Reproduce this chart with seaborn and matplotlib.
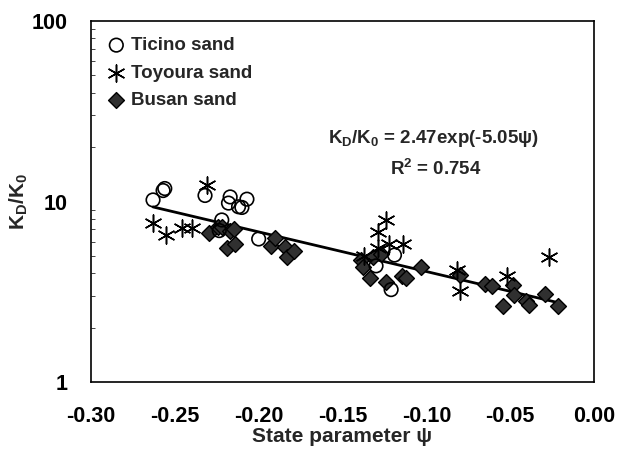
import numpy as np
import pandas as pd
import matplotlib
matplotlib.use("Agg")
import matplotlib.pyplot as plt
import seaborn as sns

# ---- data ----
ticino_x = [-0.263, -0.257, -0.256, -0.232, -0.217, -0.218, -0.212, -0.210, -0.207,
            -0.222, -0.2235, -0.200, -0.130, -0.119, -0.121]
ticino_y = [10.2, 11.5, 11.8, 10.8, 10.6, 9.8, 9.35, 9.27, 10.3,
            7.9, 6.9, 6.2, 4.4, 5.05, 3.25]

toyoura_x = [-0.263, -0.255, -0.246, -0.240, -0.231,
             -0.124, -0.129, -0.129, -0.122, -0.114, -0.137,
             -0.082, -0.080, -0.052, -0.027]
toyoura_y = [7.6, 6.5, 7.1, 7.1, 12.3,
             7.9, 6.8, 5.5, 5.85, 5.85, 5.0,
             4.2, 3.2, 3.85, 4.95]

busan_x = [-0.2295, -0.2245, -0.222, -0.219, -0.217, -0.214, -0.215,
           -0.1924, -0.190, -0.184, -0.183, -0.179,
           -0.139, -0.1376, -0.1338, -0.1319, -0.127, -0.124, -0.1143, -0.112, -0.103,
           -0.0798, -0.0648, -0.0607, -0.0543, -0.0483, -0.0476, -0.0407, -0.0388,
           -0.0293, -0.0217]
busan_y = [6.7, 7.2, 7.2, 5.5, 6.9, 5.8, 7.0,
           5.7, 6.25, 5.6, 4.95, 5.35,
           4.74, 4.36, 3.76, 4.95, 5.1, 3.6, 3.89, 3.76, 4.33,
           3.93, 3.5, 3.41, 2.65, 3.46, 3.04, 2.8, 2.68,
           3.07, 2.65]

fit_x = [-0.263, -0.022]
fit_y = [9.33, 2.76]

x_ticks = [-0.30, -0.25, -0.20, -0.15, -0.10, -0.05, 0.00]
y_ticks = [1, 10, 100]

# ---- style ----
sns.set_theme(style="white")
plt.rcParams['font.family'] = ['Liberation Sans', 'DejaVu Sans']
plt.rcParams['font.weight'] = 'bold'
plt.rcParams['mathtext.fontset'] = 'custom'
plt.rcParams['mathtext.rm'] = 'Liberation Sans:bold'
plt.rcParams['mathtext.bf'] = 'Liberation Sans:bold'
plt.rcParams['mathtext.it'] = 'Liberation Sans:bold'
plt.rcParams['mathtext.default'] = 'bf'

fig = plt.figure(figsize=(6.21, 4.54), dpi=100)
ax = fig.add_axes([91/621, (454-382)/454, (594-91)/621, (382-21)/454])

df_t = pd.DataFrame({'x': ticino_x, 'y': ticino_y})
df_y = pd.DataFrame({'x': toyoura_x, 'y': toyoura_y})
df_b = pd.DataFrame({'x': busan_x, 'y': busan_y})
df_f = pd.DataFrame({'x': fit_x, 'y': fit_y})

sns.lineplot(data=df_f, x='x', y='y', ax=ax, color='black', lw=2.0, zorder=2)
sns.scatterplot(data=df_b, x='x', y='y', ax=ax, marker='D', s=65,
                color='#303030', edgecolor='black', linewidth=1.0, zorder=3,
                label='Busan sand')
sns.scatterplot(data=df_t, x='x', y='y', ax=ax, marker='o', s=95,
                facecolor='none', edgecolor='black', linewidth=1.2, zorder=4,
                label='Ticino sand')
sns.scatterplot(data=df_y, x='x', y='y', ax=ax, marker=(6, 2, 0), s=150,
                color='black', linewidth=1.1, zorder=4,
                label='Toyoura sand')

ax.set_yscale('log')
ax.set_xlim(-0.30, 0.0)
ax.set_ylim(1, 100)
ax.set_xticks(x_ticks)
ax.set_xticklabels([f"{v:.2f}" for v in x_ticks])
ax.set_yticks(y_ticks)
ax.set_yticklabels([str(v) for v in y_ticks])
ax.tick_params(axis='both', which='major', direction='in', length=4, width=0.8,
               labelsize=15.5, colors='black')
ax.tick_params(axis='x', which='major', pad=17)
ax.tick_params(axis='y', which='major', pad=17)
ax.tick_params(axis='y', which='minor', direction='in', length=3, width=0.6, left=True)
ax.tick_params(axis='x', which='minor', bottom=False)
for lab in ax.get_xticklabels() + ax.get_yticklabels():
    lab.set_fontweight('bold')
for s in ax.spines.values():
    s.set_color('black')
    s.set_linewidth(1.2)

ax.set_xlabel('State parameter ψ', fontsize=15, fontweight='bold', labelpad=0)
ax.set_ylabel('$K_D/K_0$', fontsize=15)
ax.yaxis.set_label_coords(-0.121, 0.5)

ax.text(0.68, 0.675, '$K_D/K_0$ = 2.47exp(-5.05ψ)', transform=ax.transAxes,
        ha='center', va='center', fontsize=13.5, fontweight='bold')
ax.text(0.685, 0.59, 'R$^2$ = 0.754', transform=ax.transAxes,
        ha='center', va='center', fontsize=13.5, fontweight='bold')

h, l = ax.get_legend_handles_labels()
order = [l.index('Ticino sand'), l.index('Toyoura sand'), l.index('Busan sand')]
ax.legend([h[i] for i in order], [l[i] for i in order], loc='upper left',
          frameon=False, prop={'weight': 'bold', 'size': 13.5},
          handlelength=1.0, handletextpad=0.3, labelspacing=0.55, borderaxespad=0.45,
          bbox_to_anchor=(0.0, 1.0), markerscale=1.0)

fig.savefig('out.png', dpi=100)
